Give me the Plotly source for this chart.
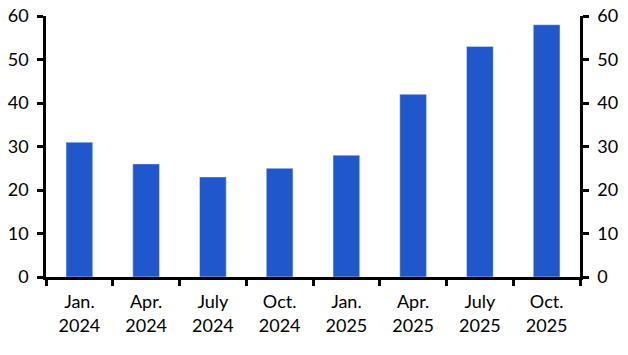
import plotly.graph_objects as go

categories = ["Jan.<br>2024", "Apr.<br>2024", "July<br>2024", "Oct.<br>2024",
              "Jan.<br>2025", "Apr.<br>2025", "July<br>2025", "Oct.<br>2025"]
values = [31, 26, 23, 25, 28, 42, 53, 58]
y_ticks = [0, 10, 20, 30, 40, 50, 60]

color = "#2058CC"
font = dict(family="Lato", size=18, color="black")

fig = go.Figure()
fig.add_trace(go.Bar(x=categories, y=values, marker=dict(color=color, line=dict(width=0)),
                     width=0.4, showlegend=False))
fig.add_trace(go.Bar(x=categories, y=values, yaxis="y2", marker=dict(color="rgba(0,0,0,0)"),
                     width=0.4, showlegend=False, hoverinfo="skip"))

axis_common = dict(range=[0, 60], tickvals=y_ticks, showgrid=False, zeroline=False,
                   showline=True, linecolor="black", linewidth=2.5,
                   ticks="outside", ticklen=6, tickwidth=2.5, tickcolor="black",
                   tickfont=font, fixedrange=True, automargin=False,
                   ticklabelstandoff=5)

fig.update_layout(
    width=628, height=355,
    margin=dict(l=46, r=48, t=16, b=78),
    paper_bgcolor="white", plot_bgcolor="white",
    barmode="overlay",
    font=font,
    xaxis=dict(type="category", tickson="boundaries", ticks="outside", ticklen=6,
               tickwidth=2.5, tickcolor="black", showline=True, linecolor="black",
               linewidth=2.5, showgrid=False, tickfont=font, ticklabelstandoff=7,
               automargin=False),
    yaxis=dict(side="left", **axis_common),
    yaxis2=dict(side="right", overlaying="y", **axis_common),
)

fig.write_html("out.html")
